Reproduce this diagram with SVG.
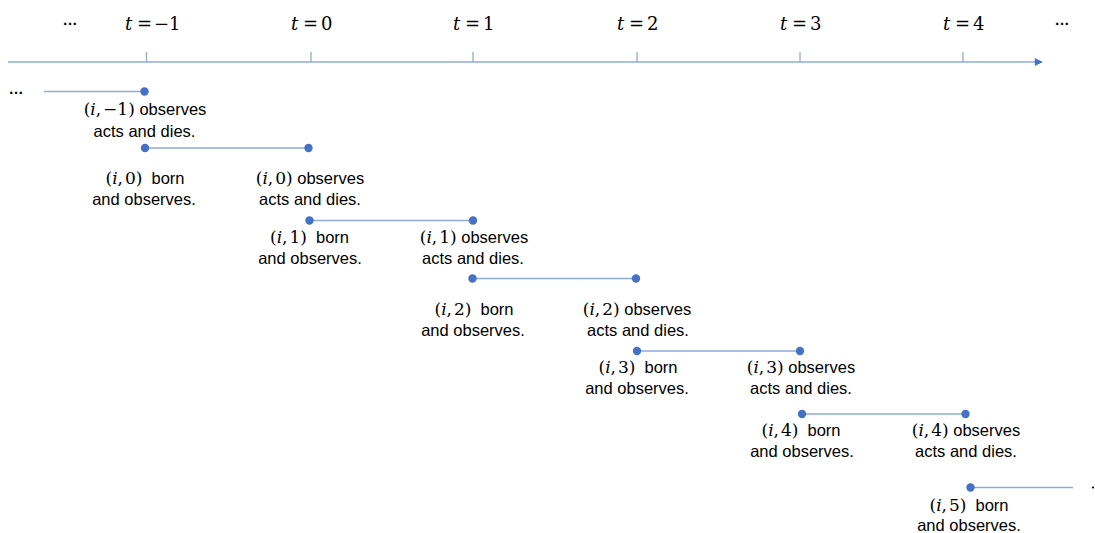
<svg xmlns="http://www.w3.org/2000/svg" width="1095" height="533" viewBox="0 0 1095 533">
<defs>
<marker id="arr" viewBox="0 0 10 10" refX="9" refY="5" markerWidth="9" markerHeight="8" markerUnits="userSpaceOnUse" orient="auto">
<path d="M0,0 L10,5 L0,10 z" fill="#4472C4"/>
</marker>
<style>
.ax{stroke:#8FAADC;stroke-width:1.3;fill:none}
.ln{stroke:#8FAADC;stroke-width:1.3;fill:none}
.dot{fill:#4472C4}
.lb{font-family:"Liberation Sans",Arial,sans-serif;font-size:16.5px;fill:#000;text-anchor:middle}
.m{font-family:"DejaVu Serif","Liberation Serif",serif;font-size:17px}
.mi{font-style:italic}
.tl{font-family:"DejaVu Serif","Liberation Serif",serif;font-size:18px;fill:#000}
.dd{font-family:"Liberation Sans",Arial,sans-serif;font-size:15px;font-weight:bold;fill:#000;text-anchor:middle}
</style>
</defs>
<rect width="1095" height="533" fill="#fff"/>

<g id="axis">
<line class="ax" x1="8" y1="62" x2="1042" y2="62" marker-end="url(#arr)"/>
<line class="ax" x1="146.5" y1="52" x2="146.5" y2="62"/>
<line class="ax" x1="311" y1="52" x2="311" y2="62"/>
<line class="ax" x1="473" y1="52" x2="473" y2="62"/>
<line class="ax" x1="637" y1="52" x2="637" y2="62"/>
<line class="ax" x1="800" y1="52" x2="800" y2="62"/>
<line class="ax" x1="963" y1="52" x2="963" y2="62"/>
<text class="dd" x="70" y="25">…</text>
<text class="dd" x="1062" y="25">…</text>
<text class="tl" y="30"><tspan x="125" class="mi">t</tspan><tspan x="137">=</tspan><tspan x="154">−1</tspan></text>
<text class="tl" y="30"><tspan x="291" class="mi">t</tspan><tspan x="303">=</tspan><tspan x="321">0</tspan></text>
<text class="tl" y="30"><tspan x="453" class="mi">t</tspan><tspan x="465">=</tspan><tspan x="483">1</tspan></text>
<text class="tl" y="30"><tspan x="617" class="mi">t</tspan><tspan x="629">=</tspan><tspan x="647">2</tspan></text>
<text class="tl" y="30"><tspan x="780" class="mi">t</tspan><tspan x="792">=</tspan><tspan x="810">3</tspan></text>
<text class="tl" y="30"><tspan x="943" class="mi">t</tspan><tspan x="955">=</tspan><tspan x="973">4</tspan></text>
</g>

<g id="connectors">
<line class="ln" x1="44" y1="91.5" x2="144.5" y2="91.5"/>
<line class="ln" x1="145" y1="148" x2="308.5" y2="148"/>
<line class="ln" x1="309.5" y1="220.5" x2="473" y2="220.5"/>
<line class="ln" x1="472.5" y1="278.5" x2="636" y2="278.5"/>
<line class="ln" x1="637" y1="351" x2="800" y2="351"/>
<line class="ln" x1="802" y1="414" x2="965.5" y2="414"/>
<line class="ln" x1="970.5" y1="487.5" x2="1073" y2="487.5"/>
</g>

<g id="gen-m1">
<text class="dd" x="16" y="94">…</text>
<circle class="dot" cx="144.5" cy="91.5" r="4.2"/>
<text class="lb" x="145" y="115"><tspan class="m">(<tspan class="mi">i</tspan>,<tspan dx="2">−1)</tspan></tspan> observes</text>
<text class="lb" x="144.5" y="137">acts and dies.</text>
</g>

<g id="gen-0">
<circle class="dot" cx="145" cy="148" r="4.2"/>
<circle class="dot" cx="308.5" cy="148" r="4.2"/>
<text class="lb" x="145" y="184"><tspan class="m">(<tspan class="mi">i</tspan>,<tspan dx="2">0)</tspan></tspan><tspan dx="9">born</tspan></text>
<text class="lb" x="144" y="205">and observes.</text>
<text class="lb" x="310" y="184"><tspan class="m">(<tspan class="mi">i</tspan>,<tspan dx="2">0)</tspan></tspan> observes</text>
<text class="lb" x="310" y="205">acts and dies.</text>
</g>

<g id="gen-1">
<circle class="dot" cx="309.5" cy="220.5" r="4.2"/>
<circle class="dot" cx="473" cy="220.5" r="4.2"/>
<text class="lb" x="309.5" y="243"><tspan class="m">(<tspan class="mi">i</tspan>,<tspan dx="2">1)</tspan></tspan><tspan dx="9">born</tspan></text>
<text class="lb" x="310" y="264">and observes.</text>
<text class="lb" x="474" y="243"><tspan class="m">(<tspan class="mi">i</tspan>,<tspan dx="2">1)</tspan></tspan> observes</text>
<text class="lb" x="473" y="264">acts and dies.</text>
</g>

<g id="gen-2">
<circle class="dot" cx="472.5" cy="278.5" r="4.2"/>
<circle class="dot" cx="636" cy="278.5" r="4.2"/>
<text class="lb" x="474" y="315"><tspan class="m">(<tspan class="mi">i</tspan>,<tspan dx="2">2)</tspan></tspan><tspan dx="9">born</tspan></text>
<text class="lb" x="473" y="336">and observes.</text>
<text class="lb" x="637" y="315"><tspan class="m">(<tspan class="mi">i</tspan>,<tspan dx="2">2)</tspan></tspan> observes</text>
<text class="lb" x="638" y="336">acts and dies.</text>
</g>

<g id="gen-3">
<circle class="dot" cx="637" cy="351" r="4.2"/>
<circle class="dot" cx="800" cy="351" r="4.2"/>
<text class="lb" x="638" y="373"><tspan class="m">(<tspan class="mi">i</tspan>,<tspan dx="2">3)</tspan></tspan><tspan dx="9">born</tspan></text>
<text class="lb" x="637" y="394">and observes.</text>
<text class="lb" x="801" y="373"><tspan class="m">(<tspan class="mi">i</tspan>,<tspan dx="2">3)</tspan></tspan> observes</text>
<text class="lb" x="801" y="394">acts and dies.</text>
</g>

<g id="gen-4">
<circle class="dot" cx="802" cy="414" r="4.2"/>
<circle class="dot" cx="965.5" cy="414" r="4.2"/>
<text class="lb" x="801" y="436"><tspan class="m">(<tspan class="mi">i</tspan>,<tspan dx="2">4)</tspan></tspan><tspan dx="9">born</tspan></text>
<text class="lb" x="802" y="457">and observes.</text>
<text class="lb" x="966" y="436"><tspan class="m">(<tspan class="mi">i</tspan>,<tspan dx="2">4)</tspan></tspan> observes</text>
<text class="lb" x="966" y="457">acts and dies.</text>
</g>

<g id="gen-5">
<circle class="dot" cx="970.5" cy="487.5" r="4.2"/>
<text class="lb" x="969" y="511"><tspan class="m">(<tspan class="mi">i</tspan>,<tspan dx="2">5)</tspan></tspan><tspan dx="9">born</tspan></text>
<text class="lb" x="969" y="531">and observes.</text>
<circle cx="1093" cy="487.5" r="1.1" fill="#000"/>
</g>
</svg>
